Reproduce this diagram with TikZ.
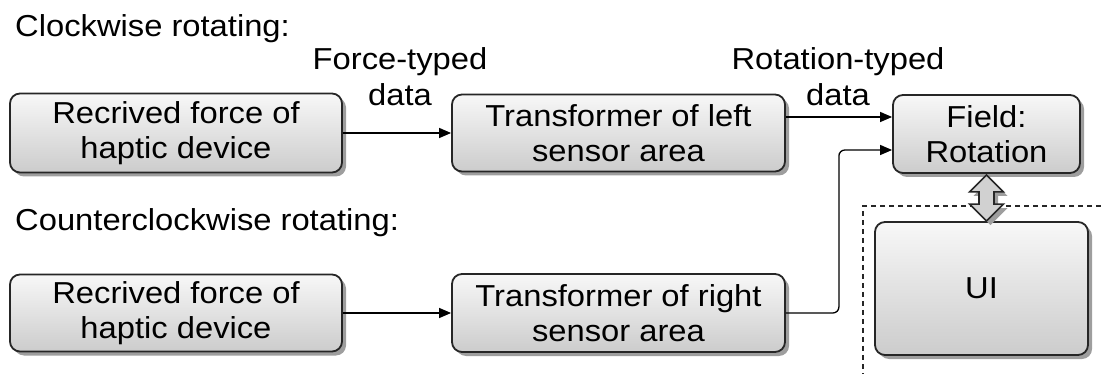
\documentclass[tikz,border=0pt]{standalone}
\usepackage{fontspec}
\setmainfont[FakeStretch=1.08]{Liberation Sans}
\usetikzlibrary{arrows.meta,calc,shadows}

\begin{document}
\begin{tikzpicture}[x=1pt,y=-1pt,
  every node/.style={font=\fontsize{30.3}{36}\selectfont},
  block/.style={draw=black!85, line width=1.8pt, rounded corners=10pt,
    top color=black!3, bottom color=black!20, align=center, inner sep=0pt,
    font=\fontsize{30.3}{35}\selectfont,
    general shadow={fill=black!38, shadow xshift=4pt, shadow yshift=-4pt}},
  lbl/.style={align=center, inner sep=0pt, anchor=base},
  heading/.style={inner sep=0pt, anchor=base west},
  arr/.style={draw=black, line width=1.3pt, -{Triangle[length=12pt,width=10pt]}},
  frame/.style={draw=black!85, line width=1.2pt, dash pattern=on 5pt off 4pt}]

\useasboundingbox (0,0) rectangle (1101,374);
\clip (0,0) rectangle (1101,374);

% section headings
\node[heading] (cw)  at (15,37)  {Clockwise rotating:};
\node[heading] (ccw) at (15,231) {Counterclockwise rotating:};

% dashed frame around the user interface
\draw[frame] (1110,206) -- (863,206) -- (863,380);

% blocks
\node[block, minimum width=332pt, minimum height=79pt] (a1) at (176,133)   {Recrived force of\\haptic device};
\node[block, minimum width=333pt, minimum height=77pt] (t1) at (618.5,133) {Transformer of left\\sensor area};
\node[block, minimum width=187pt, minimum height=78pt] (field) at (986.5,134) {Field:\\Rotation};
\node[block, minimum width=213pt, minimum height=133pt] (ui) at (981.5,288.5) {UI};
\node[block, minimum width=332pt, minimum height=77pt] (a2) at (176,313)   {Recrived force of\\haptic device};
\node[block, minimum width=333pt, minimum height=78pt] (t2) at (618.5,313) {Transformer of right\\sensor area};

% edge labels (anchored on the baseline of their last line)
\node[lbl] (lf) at (400,106) {Force-typed\\data};
\node[lbl] (lr) at (838,106) {Rotation-typed\\data};

% connectors
\coordinate (fin1) at ([yshift=17pt]field.west);
\coordinate (fin2) at ([yshift=-16pt]field.west);
\draw[arr] (a1.east) -- (t1.west);
\draw[arr] (a2.east) -- (t2.west);
\draw[arr] (t1.east |- fin1) -- (fin1);
\draw[arr, rounded corners=6pt] (t2.east) -- ++(53,0) |- (fin2);

% two-way link between the field and the UI
\coordinate (dt) at ([yshift=-1pt]field.south);
\coordinate (db) at (field.south |- ui.north);
\fill[black!38] ([shift={(4,4)}]dt) -- ++(17,17) -- ++(-9.5,0) -- ($(db)+(11.5,-13)$) -- ++(9.5,0)
  -- ([shift={(4,4)}]db) -- ++(-17,-17) -- ++(9.5,0) -- ($(dt)+(-3.5,21)$) -- ++(-9.5,0) -- cycle;
\draw[black!85, line width=1.6pt, fill=black!18, line join=miter]
  (dt) -- ++(17,17) -- ++(-9.5,0) -- ($(db)+(7.5,-17)$) -- ++(9.5,0)
  -- (db) -- ++(-17,-17) -- ++(9.5,0) -- ($(dt)+(-7.5,17)$) -- ++(-9.5,0) -- cycle;
\end{tikzpicture}
\end{document}
